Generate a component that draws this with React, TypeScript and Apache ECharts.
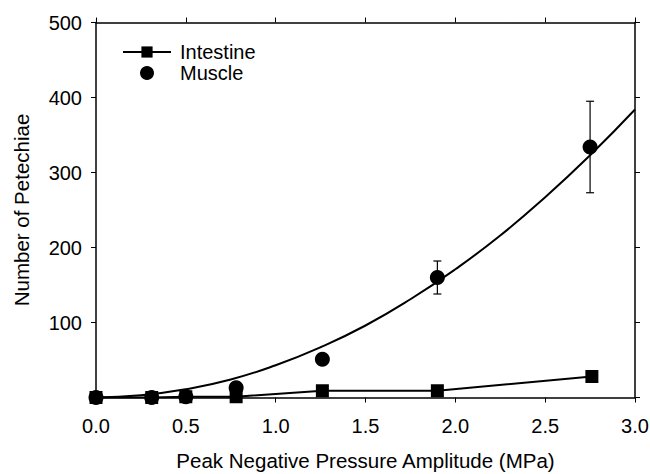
import React, { useEffect, useRef } from "react";
import * as echarts from "echarts";

const intestineX = [0, 0.31, 0.5, 0.78, 1.26, 1.9, 2.76];
const intestineY = [0, 0, 1, 1, 9, 9, 28];

const muscleX = [0, 0.31, 0.5, 0.78, 1.26, 1.9, 2.75];
const muscleY = [0, 0, 1, 13, 51, 160, 334];
const muscleErrLow = [0, 0, 1, 13, 51, 138, 273];
const muscleErrHigh = [0, 0, 1, 13, 51, 182, 395];

const fitX = [0, 0.25, 0.5, 0.75, 1.0, 1.25, 1.5, 1.75, 2.0, 2.25, 2.5, 2.75, 3.0];
const fitY = [0, 3, 11, 24, 43, 67, 96, 131, 171, 216, 267, 323, 384];

const FONT = "'Liberation Sans', Arial, sans-serif";

export default function App() {
  const ref = useRef<HTMLDivElement>(null);
  useEffect(() => {
    if (!ref.current) return;
    const chart = echarts.init(ref.current, undefined, { renderer: "svg" });
    const errData = muscleX
      .map((x, i) => [x, muscleErrLow[i], muscleErrHigh[i]])
      .filter((d) => d[2] > d[1]);
    const axisCommon = {
      axisLine: { show: true, onZero: false, lineStyle: { color: "#000", width: 1.5 } },
      axisTick: { show: true, inside: false, length: 5, lineStyle: { color: "#000", width: 1 } },
      splitLine: { show: false },
    };
    chart.setOption({
      animation: false,
      backgroundColor: "#fff",
      textStyle: { fontFamily: FONT },
      grid: {
        left: 96,
        right: 15,
        top: 22.5,
        bottom: 76.5,
        containLabel: false,
        outerBoundsMode: "none",
      },
      legend: {
        orient: "vertical",
        left: 117,
        top: 37,
        itemWidth: 48,
        itemHeight: 14,
        itemGap: 1,
        data: ["Intestine", "Muscle"],
        textStyle: { fontSize: 20, color: "#000", fontFamily: FONT, padding: [0, 0, 0, 4] },
      },
      xAxis: [
        {
          type: "value",
          min: 0,
          max: 3,
          interval: 0.5,
          position: "bottom",
          ...axisCommon,
          axisLabel: {
            fontSize: 20,
            color: "#000",
            margin: 18,
            fontFamily: FONT,
            formatter: (v: number) => v.toFixed(1),
          },
          name: "Peak Negative Pressure Amplitude (MPa)",
          nameLocation: "middle",
          nameGap: 52,
          nameTextStyle: { fontSize: 20.5, color: "#000", fontFamily: FONT },
        },
        {
          type: "value",
          min: 0,
          max: 3,
          interval: 0.5,
          position: "top",
          ...axisCommon,
          axisLabel: { show: false },
        },
      ],
      yAxis: [
        {
          type: "value",
          min: 0,
          max: 500,
          interval: 100,
          position: "left",
          ...axisCommon,
          axisLabel: {
            fontSize: 20,
            color: "#000",
            margin: 14,
            fontFamily: FONT,
            formatter: (v: number) => (v === 0 ? "" : String(v)),
          },
          name: "Number of Petechiae",
          nameLocation: "middle",
          nameGap: 64,
          nameTextStyle: { fontSize: 20.5, color: "#000", fontFamily: FONT },
        },
        {
          type: "value",
          min: 0,
          max: 500,
          interval: 100,
          position: "right",
          ...axisCommon,
          axisLabel: { show: false },
        },
      ],
      series: [
        {
          name: "Fit",
          type: "line",
          data: fitX.map((x, i) => [x, fitY[i]]),
          smooth: true,
          showSymbol: false,
          lineStyle: { color: "#000", width: 2 },
          z: 2,
        },
        {
          name: "MuscleErr",
          type: "custom",
          data: errData,
          renderItem: (params: any, api: any) => {
            const x = api.value(0);
            const lo = api.coord([x, api.value(1)]);
            const hi = api.coord([x, api.value(2)]);
            const cap = 4;
            const style = { stroke: "#000", lineWidth: 1.2 };
            return {
              type: "group",
              children: [
                { type: "line", shape: { x1: lo[0], y1: lo[1], x2: hi[0], y2: hi[1] }, style },
                { type: "line", shape: { x1: lo[0] - cap, y1: lo[1], x2: lo[0] + cap, y2: lo[1] }, style },
                { type: "line", shape: { x1: hi[0] - cap, y1: hi[1], x2: hi[0] + cap, y2: hi[1] }, style },
              ],
            };
          },
          z: 3,
        },
        {
          name: "Muscle",
          type: "scatter",
          data: muscleX.map((x, i) => [x, muscleY[i]]),
          symbol: "circle",
          symbolSize: 15,
          itemStyle: { color: "#000", opacity: 1 },
          z: 4,
        },
        {
          name: "Intestine",
          type: "line",
          data: intestineX.map((x, i) => [x, intestineY[i]]),
          symbol: "rect",
          symbolSize: 13,
          showAllSymbol: true,
          lineStyle: { color: "#000", width: 2 },
          itemStyle: { color: "#000" },
          z: 5,
        },
      ],
    });
    return () => chart.dispose();
  }, []);
  return <div ref={ref} style={{ width: 650, height: 474, position: "absolute", left: 0, top: 0 }} />;
}
